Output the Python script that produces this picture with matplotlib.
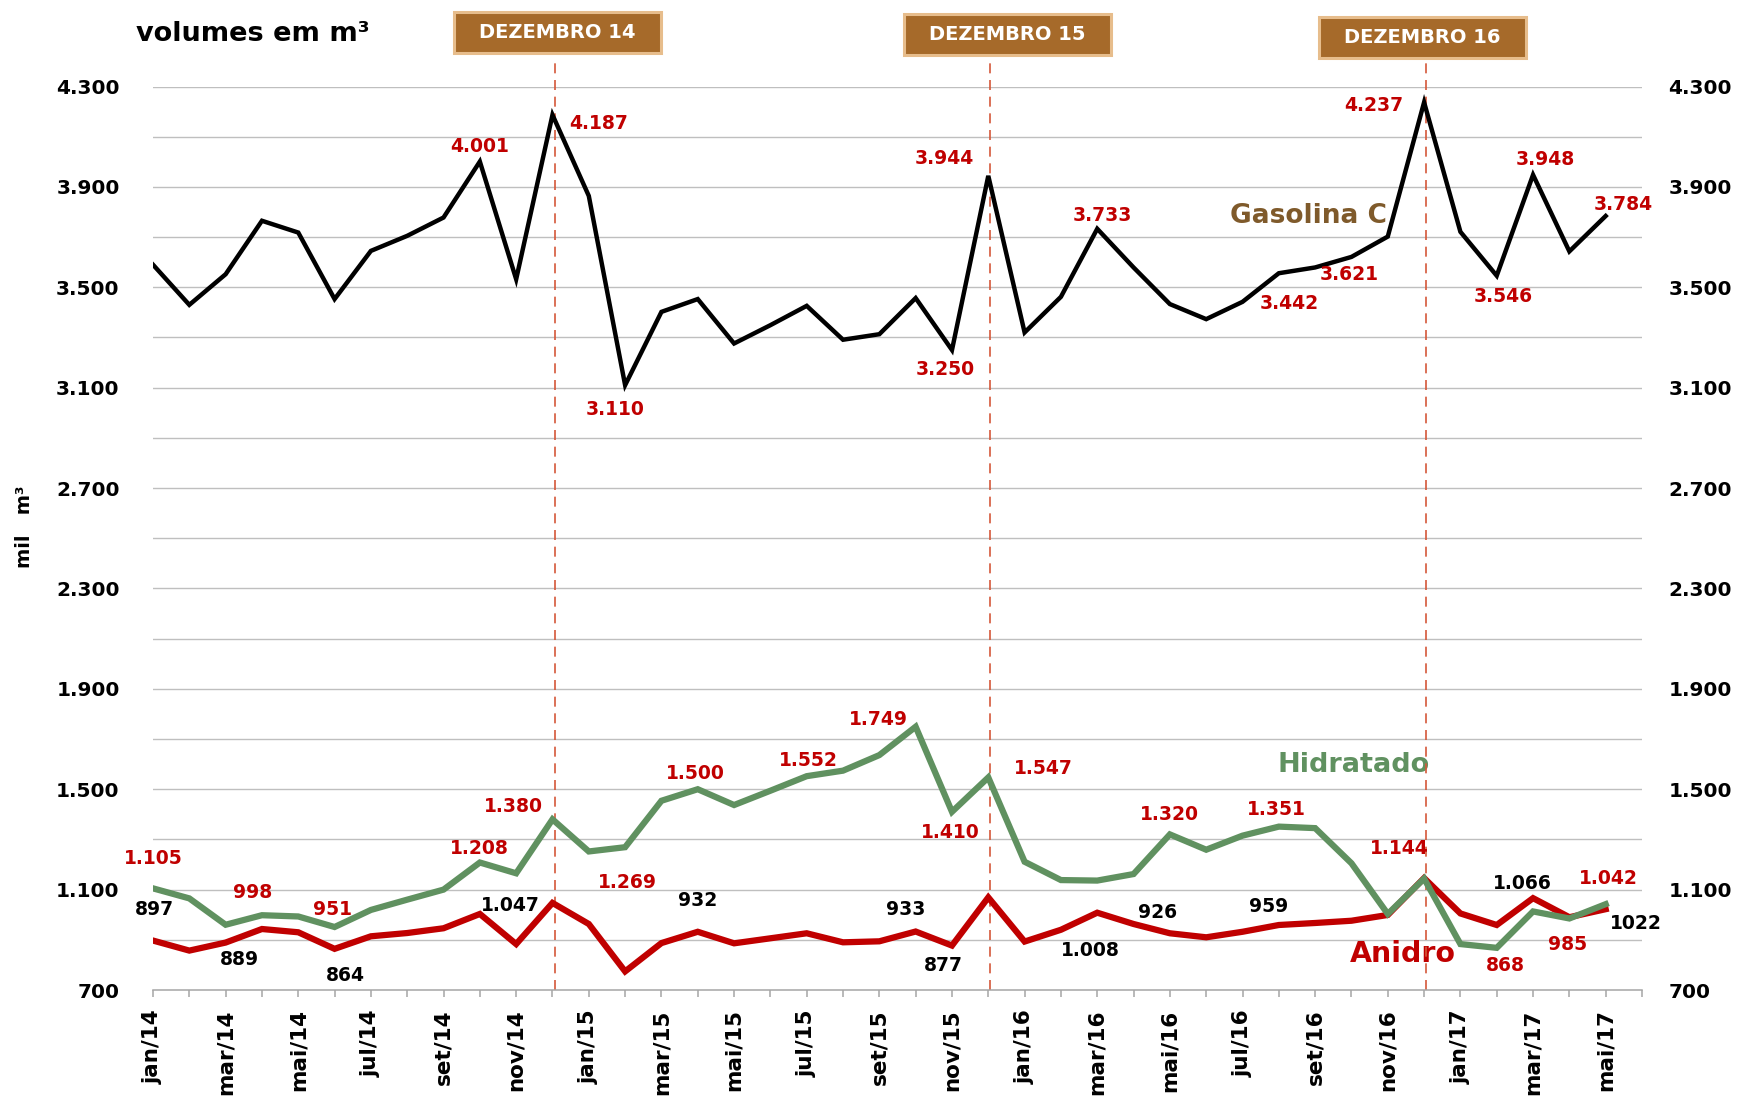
import matplotlib
matplotlib.use("Agg")
import matplotlib.pyplot as plt
from matplotlib.patches import Rectangle
import numpy as np

plt.rcParams['font.family'] = ['DejaVu Sans']
plt.rcParams['font.weight'] = 'bold'

# ---------------- data ----------------
months = ["jan/14", "fev/14", "mar/14", "abr/14", "mai/14", "jun/14", "jul/14", "ago/14",
          "set/14", "out/14", "nov/14", "dez/14",
          "jan/15", "fev/15", "mar/15", "abr/15", "mai/15", "jun/15", "jul/15", "ago/15",
          "set/15", "out/15", "nov/15", "dez/15",
          "jan/16", "fev/16", "mar/16", "abr/16", "mai/16", "jun/16", "jul/16", "ago/16",
          "set/16", "out/16", "nov/16", "dez/16",
          "jan/17", "fev/17", "mar/17", "abr/17", "mai/17"]

gasolina = [3590, 3430, 3552, 3765, 3718, 3453, 3645, 3705, 3778, 4001, 3532, 4187,
            3864, 3110, 3402, 3453, 3276, 3349, 3426, 3291, 3313, 3457, 3250, 3944,
            3320, 3462, 3733, 3579, 3433, 3373, 3442, 3556, 3579, 3621, 3702, 4237,
            3721, 3546, 3948, 3643, 3784]

hidratado = [1105, 1065, 960, 998, 993, 951, 1019, 1060, 1100, 1208, 1165, 1380,
             1252, 1269, 1454, 1500, 1437, 1494, 1552, 1574, 1636, 1749, 1410, 1547,
             1211, 1138, 1136, 1162, 1320, 1259, 1315, 1351, 1345, 1205, 1003, 1144,
             883, 868, 1013, 985, 1042]

anidro = [897, 857, 889, 943, 930, 864, 914, 927, 946, 1003, 883, 1047,
          963, 774, 887, 932, 886, 906, 926, 890, 894, 933, 877, 1069,
          893, 940, 1008, 963, 926, 910, 932, 959, 967, 976, 999, 1146,
          1005, 959, 1066, 990, 1022]

dezembro_idx = [11, 23, 35]
dezembro_txt = ["DEZEMBRO 14", "DEZEMBRO 15", "DEZEMBRO 16"]

# data labels: (index, text)
gas_lbl_idx = [9, 11, 13, 22, 23, 26, 30, 33, 35, 37, 38, 40]
gas_lbl_txt = ["4.001", "4.187", "3.110", "3.250", "3.944", "3.733", "3.442", "3.621",
               "4.237", "3.546", "3.948", "3.784"]
hid_lbl_idx = [0, 3, 5, 9, 11, 13, 15, 18, 21, 22, 23, 28, 31, 35, 37, 39, 40]
hid_lbl_txt = ["1.105", "998", "951", "1.208", "1.380", "1.269", "1.500", "1.552", "1.749",
               "1.410", "1.547", "1.320", "1.351", "1.144", "868", "985", "1.042"]
ani_lbl_idx = [0, 2, 5, 11, 15, 21, 22, 26, 28, 31, 38, 40]
ani_lbl_txt = ["897", "889", "864", "1.047", "932", "933", "877", "1.008", "926", "959",
               "1.066", "1022"]

# label offsets in pixels (right, up) -- layout only
gas_lbl_off = [(0, 15), (46, -9), (-10, -24), (-7, -19), (-44, 17), (5, 13), (47, -2),
               (-2, -18), (-50, -3), (7, -21), (12, 15), (18, 12)]
hid_lbl_off = [(0, 30), (-9, 23), (-2, 18), (0, 14), (-39, 13), (2, -35), (-2, 16), (2, 16),
               (-37, 7), (-2, -21), (55, 9), (0, 20), (-2, 17), (-25, 30), (9, -18),
               (-2, -26), (3, 26)]
ani_lbl_off = [(1, 31), (14, -17), (11, -27), (-42, -3), (0, 31), (-10, 22), (-9, -20),
               (-7, -38), (-12, 21), (-10, 18), (-11, 15), (30, -14)]

# ---------------- styling ----------------
W, H = 1738, 1099
C_BLACK = "#000000"
C_GREEN = "#609160"
C_RED = "#C00000"
C_BROWN_TXT = "#7F5A2B"
C_BOX = "#A66A2A"
C_BOX_EDGE = "#E7BD8C"
C_DASH = "#D4583A"
C_GRID = "#BFBFBF"

fig = plt.figure(figsize=(W / 100, H / 100), dpi=100)
ax_l, ax_r, ax_t, ax_b = 153, 1642, 86.5, 990
ax = fig.add_axes([ax_l / W, 1 - ax_b / H, (ax_r - ax_l) / W, (ax_b - ax_t) / H])

x = np.arange(len(months))
ax.set_xlim(0, len(months))
ax.set_ylim(700, 4300)

# grid
for gy in range(900, 4301, 200):
    ax.axhline(gy, color=C_GRID, lw=1.0, zorder=1)

# series lines
ax.plot(x, gasolina, color=C_BLACK, lw=3.2, zorder=4, solid_joinstyle='miter')
ax.plot(x, hidratado, color=C_GREEN, lw=4.5, zorder=4, solid_joinstyle='miter')
ax.plot(x, anidro, color=C_RED, lw=4.5, zorder=3, solid_joinstyle='miter')

# december dashed lines
top_frac = (ax_b - 59) / (ax_b - ax_t)
for d in dezembro_idx:
    ax.axvline(d + 0.06, ymin=0, ymax=top_frac, color=C_DASH, lw=1.2,
               ls=(0, (6, 4)), clip_on=False, zorder=2)

# data labels
def put_labels(series, idxs, txts, offs, color):
    for i, t, (dx, dy) in zip(idxs, txts, offs):
        ax.annotate(t, xy=(x[i], series[i]), xytext=(dx, dy), textcoords='offset pixels',
                    ha='center', va='center', fontsize=13.5, fontweight='bold',
                    color=color, zorder=6, annotation_clip=False)

put_labels(gasolina, gas_lbl_idx, gas_lbl_txt, gas_lbl_off, C_RED)
put_labels(hidratado, hid_lbl_idx, hid_lbl_txt, hid_lbl_off, C_RED)
put_labels(anidro, ani_lbl_idx, ani_lbl_txt, ani_lbl_off, C_BLACK)

# series names
def axfrac(px, py):
    return ((px - ax_l) / (ax_r - ax_l), (ax_b - py) / (ax_b - ax_t))

ax.text(*axfrac(1308, 216), "Gasolina C", transform=ax.transAxes, ha='center', va='center',
        fontsize=19, fontweight='bold', color=C_BROWN_TXT, zorder=1.5)
ax.text(*axfrac(1354, 765), "Hidratado", transform=ax.transAxes, ha='center', va='center',
        fontsize=19.5, fontweight='bold', color=C_GREEN, zorder=1.5)
ax.text(*axfrac(1403, 954), "Anidro", transform=ax.transAxes, ha='center', va='center',
        fontsize=20.5, fontweight='bold', color=C_RED, zorder=1.5)

# axes styling
for s in ["left", "right", "top"]:
    ax.spines[s].set_visible(False)
ax.spines["bottom"].set_color("#A6A6A6")
ax.spines["bottom"].set_linewidth(1.1)
ax.spines["bottom"].set_zorder(2)

yt = list(range(700, 4301, 400))
ytl = [f"{v:,}".replace(",", ".") for v in yt]
ax.set_yticks(yt)
ax.set_yticklabels(ytl, fontsize=14.5, fontweight='bold')
ax.tick_params(axis='y', length=0, pad=24)

ax.set_xticks(np.arange(0, len(months) + 1))
xtl = [months[i] if (i % 2 == 0 and i < len(months)) else "" for i in range(len(months) + 1)]
ax.set_xticklabels(xtl, rotation=90, fontsize=15.5, fontweight='bold')
ax.tick_params(axis='x', length=5, width=1.1, color="#A6A6A6", pad=9, direction='out')

ax2 = ax.twinx()
ax2.set_ylim(ax.get_ylim())
ax2.set_yticks(yt)
ax2.set_yticklabels(ytl, fontsize=14.5, fontweight='bold')
ax2.tick_params(axis='y', length=0, pad=19)
for s in ax2.spines.values():
    s.set_visible(False)

# titles
fig.text(253 / W, 1 - 34 / H, "volumes em m³", ha='center', va='center',
         fontsize=19.5, fontweight='bold', color='black')
fig.text(24 / W, 1 - 527 / H, "mil   m³", ha='center', va='center', rotation=90,
         fontsize=14, fontweight='bold', color='black')

# december boxes
boxes = [(454, 12, 661, 53), (904, 14, 1111, 55), (1319, 17, 1526, 58)]
for (x0, y0, x1, y1), t in zip(boxes, dezembro_txt):
    r = Rectangle((x0 / W, 1 - y1 / H), (x1 - x0) / W, (y1 - y0) / H,
                  transform=fig.transFigure, facecolor=C_BOX, edgecolor=C_BOX_EDGE,
                  linewidth=2.2, zorder=5)
    fig.add_artist(r)
    fig.text((x0 + x1) / 2 / W, 1 - (y0 + y1) / 2 / H, t, ha='center', va='center',
             fontsize=14, fontweight='bold', color='white', zorder=6)

fig.savefig("out.png", dpi=100)
